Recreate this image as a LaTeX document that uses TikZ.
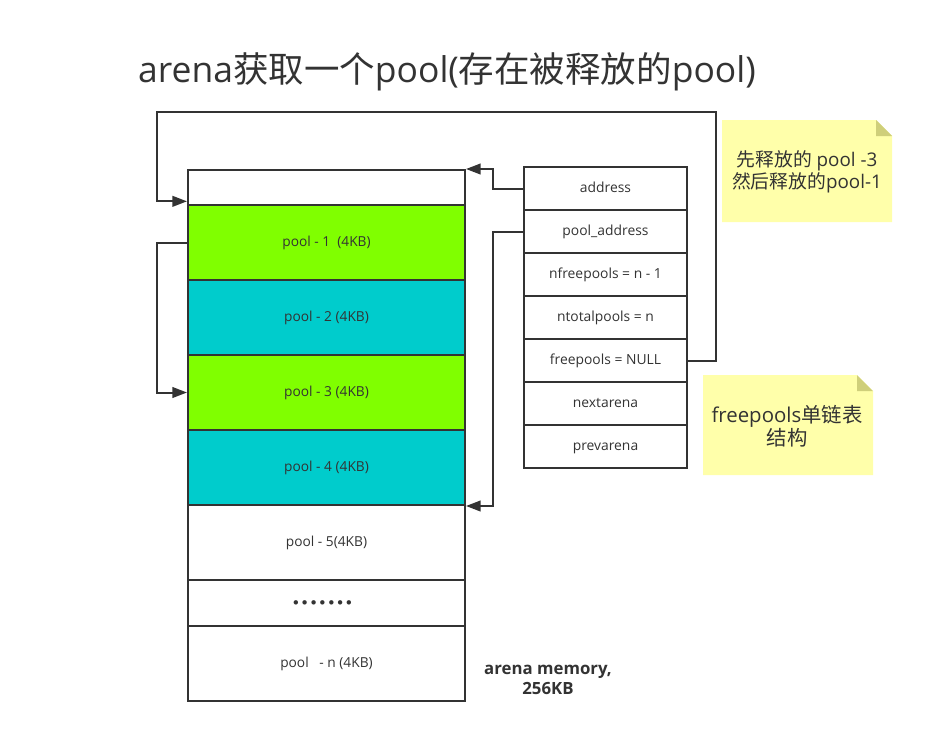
\documentclass[tikz,border=0pt]{standalone}
\usepackage{fontspec}
\setmainfont{Open Sans}
\newfontfamily\cjk{Noto Sans CJK SC}
\usetikzlibrary{arrows.meta}
\definecolor{ln}{HTML}{333333}
\definecolor{pgreen}{HTML}{80FF00}
\definecolor{pcyan}{HTML}{00CCCC}
\definecolor{notefill}{HTML}{FFFFAA}
\definecolor{foldfill}{HTML}{CFCF7A}
\newcommand\mydot{\hbox{$\bullet$}\kern2.4pt}
\begin{document}
\begin{tikzpicture}[x=0.75pt,y=-0.75pt,
  cell/.style={draw=ln,line width=1.5pt,minimum width=207.75pt,inner sep=0pt,text=ln,text height=7.5pt,text depth=1pt,font=\fontsize{10.3}{12}\selectfont},
  fcell/.style={draw=ln,line width=1.5pt,minimum width=122.25pt,minimum height=32.25pt,inner sep=0pt,text=ln,text height=7.5pt,text depth=1pt,font=\fontsize{10.4}{12}\selectfont},
  arr/.style={draw=ln,line width=1.5pt,-{Triangle[length=11pt,width=8pt]}},
  notetext/.style={align=center,text=ln,inner sep=0pt}]
\useasboundingbox (0,0) rectangle (925,733);
\fill[white] (0,0) rectangle (925,733);

% title
\node[text=ln,inner sep=0pt,font=\fontsize{26.6}{30}\selectfont] (title) at (447,72)
  {arena{\cjk 获取一个}pool({\cjk 存在被释放的}pool)};

% stack
\node[cell,minimum height=26.25pt] (top) at (326.5,187.5) {};
\node[cell,fill=pgreen,minimum height=56.25pt] (p1) at (326.5,242.5) {pool - 1\ \ (4KB)};
\node[cell,fill=pcyan,minimum height=56.25pt] (p2) at (326.5,317.5) {pool - 2 (4KB)};
\node[cell,fill=pgreen,minimum height=56.25pt] (p3) at (326.5,392.5) {pool - 3 (4KB)};
\node[cell,fill=pcyan,minimum height=56.25pt] (p4) at (326.5,467.5) {pool - 4 (4KB)};
\node[cell,minimum height=56.25pt] (p5) at (326.5,542.5) {pool - 5(4KB)};
\node[cell,minimum height=34.5pt,text height=4pt,text depth=0pt,font=\fontsize{8}{9}\selectfont] (dots) at (326.5,603) {\mydot\mydot\mydot\mydot\mydot\mydot\hbox{$\bullet$}\kern6pt};
\node[cell,minimum height=56.25pt] (pn) at (326.5,663.5) {pool\ \ \ - n (4KB)};

% arena struct table
\node[fcell] (addr) at (605.5,188.5) {address};
\node[fcell] (paddr) at (605.5,231.5) {pool\_address};
\node[fcell] (nfree) at (605.5,274.5) {nfreepools = n - 1};
\node[fcell] (ntotal) at (605.5,317.5) {ntotalpools = n};
\node[fcell] (free) at (605.5,360.5) {freepools = NULL};
\node[fcell] (next) at (605.5,403.5) {nextarena};
\node[fcell] (prev) at (605.5,446.5) {prevarena};

% label
\node[text=ln,align=center,inner sep=0pt,font=\bfseries\fontsize{12.6}{15}\selectfont] (mem) at (548,680) {arena memory,\\256KB};

% connectors
\coordinate (c1a) at (716,112);
\coordinate (c1b) at (157,112);
\draw[arr] (free.east) -| (c1a) -- (c1b) |- ([yshift=3.5pt]top.south west);
\draw[arr] (addr.west) -- ++(-30,0) |- (top.north east);
\draw[arr] (paddr.west) -- ++(-30,0) |- (p4.south east);
\draw[arr] (p1.west) -- ++(-30,0) |- (p3.west);

% notes
\fill[notefill] (722,120) -- (876,120) -- (892,136) -- (892,222) -- (722,222) -- cycle;
\fill[foldfill] (876,120) -- (892,136) -- (876,136) -- cycle;
\node[notetext,font=\fontsize{14.1}{16.5}\selectfont] (n1) at (807,172) {{\cjk 先释放的} pool -3\\{\cjk 然后释放的}pool-1};

\fill[notefill] (703,375) -- (857,375) -- (873,391) -- (873,475) -- (703,475) -- cycle;
\fill[foldfill] (857,375) -- (873,391) -- (857,391) -- cycle;
\node[notetext,font=\fontsize{15.3}{17.5}\selectfont] (n2) at (787,426) {freepools{\cjk 单链表}\\{\cjk 结构}};
\end{tikzpicture}
\end{document}
